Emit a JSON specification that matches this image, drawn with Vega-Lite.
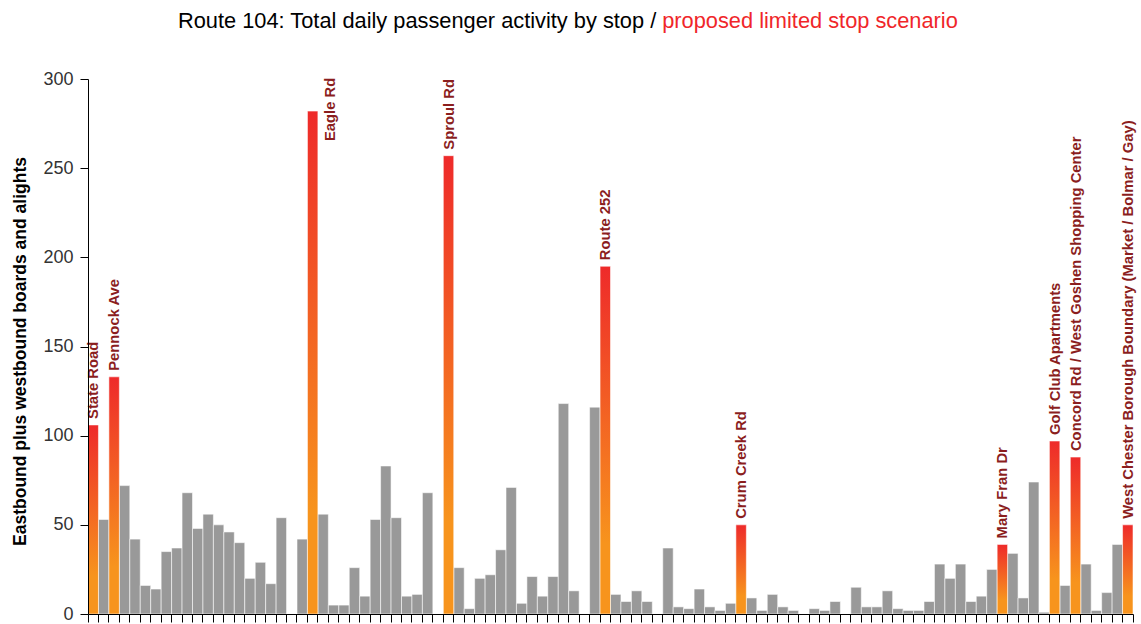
{
  "$schema": "https://vega.github.io/schema/vega-lite/v6.json",
  "width": 1045,
  "height": 535,
  "autosize": {"type": "none"},
  "padding": {"left": 88, "top": 79, "right": 8, "bottom": 10},
  "background": "white",
  "config": {"view": {"stroke": null}, "font": "Liberation Sans"},
  "data": {
    "values": [
      {"stop": 1, "name": "State Road", "riders": 106},
      {"stop": 2, "name": "", "riders": 53},
      {"stop": 3, "name": "Pennock Ave", "riders": 133},
      {"stop": 4, "name": "", "riders": 72},
      {"stop": 5, "name": "", "riders": 42},
      {"stop": 6, "name": "", "riders": 16},
      {"stop": 7, "name": "", "riders": 14},
      {"stop": 8, "name": "", "riders": 35},
      {"stop": 9, "name": "", "riders": 37},
      {"stop": 10, "name": "", "riders": 68},
      {"stop": 11, "name": "", "riders": 48},
      {"stop": 12, "name": "", "riders": 56},
      {"stop": 13, "name": "", "riders": 50},
      {"stop": 14, "name": "", "riders": 46},
      {"stop": 15, "name": "", "riders": 40},
      {"stop": 16, "name": "", "riders": 20},
      {"stop": 17, "name": "", "riders": 29},
      {"stop": 18, "name": "", "riders": 17},
      {"stop": 19, "name": "", "riders": 54},
      {"stop": 20, "name": "", "riders": 0},
      {"stop": 21, "name": "", "riders": 42},
      {"stop": 22, "name": "Eagle Rd", "riders": 282},
      {"stop": 23, "name": "", "riders": 56},
      {"stop": 24, "name": "", "riders": 5},
      {"stop": 25, "name": "", "riders": 5},
      {"stop": 26, "name": "", "riders": 26},
      {"stop": 27, "name": "", "riders": 10},
      {"stop": 28, "name": "", "riders": 53},
      {"stop": 29, "name": "", "riders": 83},
      {"stop": 30, "name": "", "riders": 54},
      {"stop": 31, "name": "", "riders": 10},
      {"stop": 32, "name": "", "riders": 11},
      {"stop": 33, "name": "", "riders": 68},
      {"stop": 34, "name": "", "riders": 0},
      {"stop": 35, "name": "Sproul Rd", "riders": 257},
      {"stop": 36, "name": "", "riders": 26},
      {"stop": 37, "name": "", "riders": 3},
      {"stop": 38, "name": "", "riders": 20},
      {"stop": 39, "name": "", "riders": 22},
      {"stop": 40, "name": "", "riders": 36},
      {"stop": 41, "name": "", "riders": 71},
      {"stop": 42, "name": "", "riders": 6},
      {"stop": 43, "name": "", "riders": 21},
      {"stop": 44, "name": "", "riders": 10},
      {"stop": 45, "name": "", "riders": 21},
      {"stop": 46, "name": "", "riders": 118},
      {"stop": 47, "name": "", "riders": 13},
      {"stop": 48, "name": "", "riders": 0},
      {"stop": 49, "name": "", "riders": 116},
      {"stop": 50, "name": "Route 252", "riders": 195},
      {"stop": 51, "name": "", "riders": 11},
      {"stop": 52, "name": "", "riders": 7},
      {"stop": 53, "name": "", "riders": 13},
      {"stop": 54, "name": "", "riders": 7},
      {"stop": 55, "name": "", "riders": 0},
      {"stop": 56, "name": "", "riders": 37},
      {"stop": 57, "name": "", "riders": 4},
      {"stop": 58, "name": "", "riders": 3},
      {"stop": 59, "name": "", "riders": 14},
      {"stop": 60, "name": "", "riders": 4},
      {"stop": 61, "name": "", "riders": 2},
      {"stop": 62, "name": "", "riders": 6},
      {"stop": 63, "name": "Crum Creek Rd", "riders": 50},
      {"stop": 64, "name": "", "riders": 9},
      {"stop": 65, "name": "", "riders": 2},
      {"stop": 66, "name": "", "riders": 11},
      {"stop": 67, "name": "", "riders": 4},
      {"stop": 68, "name": "", "riders": 2},
      {"stop": 69, "name": "", "riders": 0},
      {"stop": 70, "name": "", "riders": 3},
      {"stop": 71, "name": "", "riders": 2},
      {"stop": 72, "name": "", "riders": 7},
      {"stop": 73, "name": "", "riders": 0},
      {"stop": 74, "name": "", "riders": 15},
      {"stop": 75, "name": "", "riders": 4},
      {"stop": 76, "name": "", "riders": 4},
      {"stop": 77, "name": "", "riders": 13},
      {"stop": 78, "name": "", "riders": 3},
      {"stop": 79, "name": "", "riders": 2},
      {"stop": 80, "name": "", "riders": 2},
      {"stop": 81, "name": "", "riders": 7},
      {"stop": 82, "name": "", "riders": 28},
      {"stop": 83, "name": "", "riders": 20},
      {"stop": 84, "name": "", "riders": 28},
      {"stop": 85, "name": "", "riders": 7},
      {"stop": 86, "name": "", "riders": 10},
      {"stop": 87, "name": "", "riders": 25},
      {"stop": 88, "name": "Mary Fran Dr", "riders": 39},
      {"stop": 89, "name": "", "riders": 34},
      {"stop": 90, "name": "", "riders": 9},
      {"stop": 91, "name": "", "riders": 74},
      {"stop": 92, "name": "", "riders": 1},
      {"stop": 93, "name": "Golf Club Apartments", "riders": 97},
      {"stop": 94, "name": "", "riders": 16},
      {"stop": 95, "name": "Concord Rd / West Goshen Shopping Center", "riders": 88},
      {"stop": 96, "name": "", "riders": 28},
      {"stop": 97, "name": "", "riders": 2},
      {"stop": 98, "name": "", "riders": 12},
      {"stop": 99, "name": "", "riders": 39},
      {"stop": 100, "name": "West Chester Borough Boundary (Market / Bolmar / Gay)", "riders": 50}
    ]
  },
  "encoding": {
    "y": {
      "field": "riders",
      "type": "quantitative",
      "scale": {"domain": [0, 300], "nice": false},
      "axis": {
        "values": [0, 50, 100, 150, 200, 250, 300],
        "grid": false,
        "tickSize": 8,
        "tickColor": "black",
        "domainColor": "black",
        "labelFont": "Liberation Sans",
        "labelFontSize": 18,
        "labelColor": "#333333",
        "labelPadding": 7,
        "title": "Eastbound plus westbound boards and alights",
        "titleFont": "Liberation Sans",
        "titleFontSize": 17.5,
        "titleFontWeight": "bold",
        "titleColor": "black",
        "titleAngle": 270,
        "titleAlign": "center",
        "titleBaseline": "middle",
        "titleX": -68,
        "titleY": 272,
        "zindex": 1
      }
    }
  },
  "layer": [
    {
      "transform": [{"filter": "datum.name == ''"}],
      "mark": {"type": "bar", "fill": "#999999", "stroke": "#ffffff", "strokeOpacity": 0.55, "strokeWidth": 1},
      "encoding": {
        "x": {
          "field": "stop",
          "type": "ordinal",
          "scale": {"paddingInner": 0, "paddingOuter": 0},
          "axis": {
            "orient": "bottom",
            "labels": false,
            "grid": false,
            "tickSize": 8,
            "tickColor": "black",
            "domainColor": "black",
            "bandPosition": 1,
            "tickExtra": true,
            "title": "Route 104: Total daily passenger activity by stop /",
            "titleFont": "Liberation Sans",
            "titleFontSize": 21.8,
            "titleFontWeight": "normal",
            "titleColor": "black",
            "titleAlign": "right",
            "titleBaseline": "alphabetic",
            "titleX": 567.7,
            "titleY": -586.3,
            "zindex": 1
          }
        }
      }
    },
    {
      "transform": [{"filter": "datum.name != ''"}],
      "mark": {
        "type": "bar",
        "fill": {
          "gradient": "linear",
          "x1": 0, "y1": 0, "x2": 0, "y2": 1,
          "stops": [
            {"offset": 0, "color": "#EE2A2A"},
            {"offset": 0.8, "color": "#F7941D"},
            {"offset": 1, "color": "#F7941D"}
          ]
        },
        "stroke": "#ffffff",
        "strokeOpacity": 0.55,
        "strokeWidth": 1
      },
      "encoding": {
        "x": {
          "field": "stop",
          "type": "ordinal",
          "axis": {
            "orient": "top",
            "labels": false,
            "ticks": false,
            "domain": false,
            "grid": false,
            "title": "proposed limited stop scenario",
            "titleFont": "Liberation Sans",
            "titleFontSize": 21.8,
            "titleFontWeight": "normal",
            "titleColor": "#F0262A",
            "titleAlign": "left",
            "titleBaseline": "alphabetic",
            "titleX": 573.7,
            "titleY": -51.3
          }
        }
      }
    },
    {
      "transform": [{"filter": "datum.name != '' && datum.riders < 270"}],
      "mark": {
        "type": "text",
        "angle": 270,
        "align": "left",
        "baseline": "middle",
        "dx": 6,
        "dy": 1,
        "font": "Liberation Sans",
        "fontWeight": "bold",
        "fontSize": 14.8,
        "color": "#8B1E1E"
      },
      "encoding": {
        "x": {"field": "stop", "type": "ordinal", "axis": null},
        "text": {"field": "name"}
      }
    },
    {
      "transform": [{"filter": "datum.riders >= 270"}],
      "mark": {
        "type": "text",
        "angle": 270,
        "align": "left",
        "baseline": "middle",
        "dx": -30,
        "dy": 18,
        "font": "Liberation Sans",
        "fontWeight": "bold",
        "fontSize": 14.8,
        "color": "#8B1E1E"
      },
      "encoding": {
        "x": {"field": "stop", "type": "ordinal", "axis": null},
        "text": {"field": "name"}
      }
    }
  ],
  "resolve": {"axis": {"x": "independent"}}
}
